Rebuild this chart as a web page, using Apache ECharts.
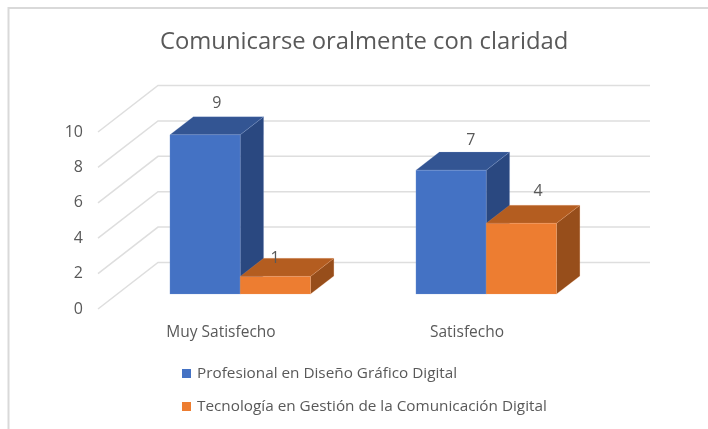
<!DOCTYPE html>
<html>
<head>
<meta charset="utf-8">
<title>Comunicarse oralmente con claridad</title>
<style>
  html, body { margin: 0; padding: 0; background: #fff; }
  #chart { width: 708px; height: 429px; }
</style>
<script src="https://cdn.jsdelivr.net/npm/echarts@6/dist/echarts.min.js"></script>
</head>
<body>
<div id="chart"></div>
<script>
var categories = ['Muy Satisfecho', 'Satisfecho']
var seriesNames = ['Profesional en Diseño Gráfico Digital', 'Tecnología en Gestión de la Comunicación Digital']
var disenoValues = [9, 7]
var tecnologiaValues = [1, 4]
var yTicks = [0, 2, 4, 6, 8, 10]

// fake 3D: how far the back wall sits from the front plane
var DEPTH_X = 60
var DEPTH_Y = 46.5
var BAR_INSET = 0.32   // gap between front plane and bar front, share of depth
var BAR_DEPTH = 0.39   // bar thickness, share of depth
var BAR_SHARE = 0.2857 // gap width 150% in two series

var blue = { front: '#4472C4', top: '#335593', side: '#2A4880', edge: 'rgba(143,170,220,0.25)' }
var orange = { front: '#ED7D31', top: '#B45D20', side: '#974E1B', edge: 'rgba(244,177,131,0.25)' }

// label nudges from the centre of the bar's top back edge, [category][series]
var labelNudge = [
  [[0, -13], [-12, 0]],
  [[8, -12], [5, -14]]
]

function toSeriesData(values) {
  var rows = []
  for (var i = 0; i < values.length; i++) {
    rows.push([i, values[i]])
  }
  return rows
}

function renderGridLine(params, api) {
  var box = params.coordSys
  var y = api.coord([0, api.value(0)])[1]
  return {
    type: 'polyline',
    silent: true,
    shape: {
      points: [
        [box.x, y],
        [box.x + DEPTH_X, y - DEPTH_Y],
        [box.x + box.width + DEPTH_X, y - DEPTH_Y]
      ]
    },
    style: { fill: null, stroke: '#DEDEDE', lineWidth: 1.5 }
  }
}

function makeBarRenderer(seriesIndex, colors) {
  return function(params, api) {
    var cat = api.value(0)
    var val = api.value(1)
    var centre = api.coord([cat, val])
    var base = api.coord([cat, 0])
    var barW = api.size([1, 0])[0] * BAR_SHARE
    var ox = DEPTH_X * BAR_INSET
    var oy = DEPTH_Y * BAR_INSET
    var dx = DEPTH_X * BAR_DEPTH
    var dy = DEPTH_Y * BAR_DEPTH
    var x0 = centre[0] + ox + (seriesIndex - 1) * barW
    var x1 = x0 + barW
    var yTop = centre[1] - oy
    var yBase = base[1] - oy
    var nudge = labelNudge[cat][seriesIndex]
    function face(points, fill) {
      return {
        type: 'polygon',
        shape: { points: points },
        style: { fill: fill, stroke: colors.edge, lineWidth: 0.8 }
      }
    }
    return {
      type: 'group',
      children: [
        face([[x1, yBase], [x1 + dx, yBase - dy], [x1 + dx, yTop - dy], [x1, yTop]], colors.side),
        face([[x0, yTop], [x0 + dx, yTop - dy], [x1 + dx, yTop - dy], [x1, yTop]], colors.top),
        face([[x0, yBase], [x1, yBase], [x1, yTop], [x0, yTop]], colors.front),
        {
          type: 'text',
          style: {
            text: String(val),
            x: (x0 + x1) / 2 + dx / 2 + nudge[0],
            y: yTop - dy + nudge[1],
            textAlign: 'center',
            textVerticalAlign: 'middle',
            fill: '#595959',
            fontSize: 16,
            fontFamily: 'Open Sans'
          }
        }
      ]
    }
  }
}

var chart = echarts.init(document.getElementById('chart'), null, { renderer: 'canvas' })
chart.setOption({
  animation: false,
  backgroundColor: '#ffffff',
  title: {
    text: 'Comunicarse oralmente con claridad',
    left: 155,
    top: 25,
    textStyle: { color: '#595959', fontSize: 23.8, fontWeight: 'normal', fontFamily: 'Open Sans' }
  },
  graphic: [{
    type: 'polyline',
    silent: true,
    shape: { points: [[8.5, 429], [8.5, 8], [708, 8]] },
    style: { fill: null, stroke: '#D9D9D9', lineWidth: 2 }
  }],
  legend: {
    data: seriesNames,
    orient: 'vertical',
    left: 177,
    top: 361,
    itemWidth: 9,
    itemHeight: 9,
    itemGap: 18,
    icon: 'rect',
    textStyle: { color: '#595959', fontSize: 15.3, fontFamily: 'Open Sans', padding: [0, 0, 0, 1] }
  },
  grid: { left: 98, right: 118, top: 132, bottom: 120 },
  xAxis: {
    type: 'category',
    data: categories,
    axisLine: { show: false },
    axisTick: { show: false },
    splitLine: { show: false },
    axisLabel: { color: '#595959', fontSize: 15.5, fontFamily: 'Open Sans', margin: 16 }
  },
  yAxis: {
    type: 'value',
    min: 0,
    max: 10,
    interval: 2,
    axisLine: { show: false },
    axisTick: { show: false },
    splitLine: { show: false },
    axisLabel: { color: '#595959', fontSize: 16, fontFamily: 'Open Sans', margin: 15 }
  },
  series: [
    {
      name: 'ejes',
      type: 'custom',
      clip: false,
      silent: true,
      data: yTicks,
      encode: { y: 0 },
      renderItem: renderGridLine
    },
    {
      name: seriesNames[0],
      type: 'custom',
      clip: false,
      itemStyle: { color: blue.front },
      encode: { x: 0, y: 1 },
      data: toSeriesData(disenoValues),
      renderItem: makeBarRenderer(0, blue)
    },
    {
      name: seriesNames[1],
      type: 'custom',
      clip: false,
      itemStyle: { color: orange.front },
      encode: { x: 0, y: 1 },
      data: toSeriesData(tecnologiaValues),
      renderItem: makeBarRenderer(1, orange)
    }
  ]
})
</script>
</body>
</html>
